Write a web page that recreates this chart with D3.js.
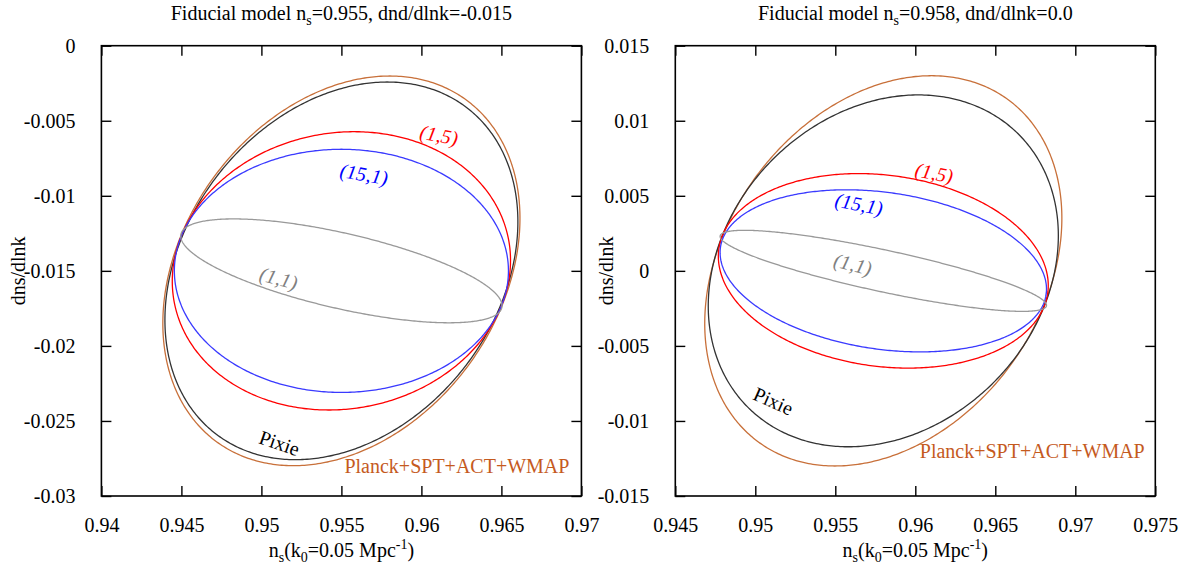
<!DOCTYPE html>
<html>
<head>
<meta charset="utf-8">
<script src="https://cdn.jsdelivr.net/npm/d3@7"></script>
<style>
  html, body { margin: 0; padding: 0; background: #fff; }
  svg, svg text, svg tspan { font-family: "Times New Roman", "Liberation Serif", Times, "DejaVu Serif", serif !important; }
</style>
</head>
<body>
<svg id="chart" width="1196" height="572"></svg>
<script>
// ---------------- DATA ----------------
const seriesNames = ["Planck+SPT+ACT+WMAP", "Pixie", "(1,5)", "(15,1)", "(1,1)"];
const seriesColors = ["#c8703a", "#333333", "#ff0000", "#3a3aff", "#999999"];
const labelColors  = ["#c55a1e", "#000000", "#ff0000", "#0000ff", "#808080"];
const labelItalic  = [false, false, true, true, true];

// Left panel: fiducial n_s=0.955, dn/dlnk=-0.015 (ellipse: centre, sigmas, correlation)
const leftCx  = [0.955, 0.955, 0.955, 0.955, 0.955];
const leftCy  = [-0.015, -0.015, -0.015, -0.015, -0.015];
const leftSx  = [0.01116, 0.01103, 0.01057, 0.01044, 0.01004];
const leftSy  = [0.01298, 0.01258, 0.00927, 0.00810, 0.00346];
const leftRho = [0.27, 0.26, 0.075, 0.0, -0.67];

// Right panel: fiducial n_s=0.958, dn/dlnk=0.0
const rightCx  = [0.958, 0.958, 0.958, 0.958, 0.958];
const rightCy  = [0.0, 0.0, 0.0, 0.0, 0.0];
const rightSx  = [0.01116, 0.01094, 0.01031, 0.01020, 0.01020];
const rightSy  = [0.01300, 0.01172, 0.00648, 0.00540, 0.00270];
const rightRho = [0.27, 0.20, -0.15, -0.225, -0.85];

// Label anchors (data units) and rotation
const leftLabelX   = [0.96222, 0.95113, 0.96110, 0.95641, 0.95108];
const leftLabelY   = [-0.02802, -0.02647, -0.00595, -0.00855, -0.01549];
const leftLabelRot = [0, 19, 11, 10, 15];
const rightLabelX   = [0.96731, 0.95113, 0.96117, 0.95648, 0.95610];
const rightLabelY   = [-0.01202, -0.00867, 0.00653, 0.00445, 0.00045];
const rightLabelRot = [0, 24, 11, 11, 14];

const leftXTicks  = [0.94, 0.945, 0.95, 0.955, 0.96, 0.965, 0.97];
const leftXTickLabels = ["0.94", "0.945", "0.95", "0.955", "0.96", "0.965", "0.97"];
const leftYTicks  = [0, -0.005, -0.01, -0.015, -0.02, -0.025, -0.03];
const leftYTickLabels = ["0", "-0.005", "-0.01", "-0.015", "-0.02", "-0.025", "-0.03"];
const rightXTicks = [0.945, 0.95, 0.955, 0.96, 0.965, 0.97, 0.975];
const rightXTickLabels = ["0.945", "0.95", "0.955", "0.96", "0.965", "0.97", "0.975"];
const rightYTicks = [0.015, 0.01, 0.005, 0, -0.005, -0.01, -0.015];
const rightYTickLabels = ["0.015", "0.01", "0.005", "0", "-0.005", "-0.01", "-0.015"];

const leftTitle  = { pre: "Fiducial model n", sub: "s", post: "=0.955, dnd/dlnk=-0.015" };
const rightTitle = { pre: "Fiducial model n", sub: "s", post: "=0.958, dnd/dlnk=0.0" };

// ---------------- DRAW ----------------
const svg = d3.select("#chart");
const FS = 20;
const FONT = "'Times New Roman', 'Liberation Serif', Times, serif";

function panel(opts) {
  const g = svg.append("g");
  const x = d3.scaleLinear().domain(opts.xDomain).range([opts.left, opts.left + 480]);
  const y = d3.scaleLinear().domain(opts.yDomain).range([496, 45.7]);
  const [x0, x1] = x.range();
  const [y0, y1] = y.range();

  // curves
  const line = d3.line().x(d => x(d[0])).y(d => y(d[1]));
  const N = 480;
  for (let i = 0; i < seriesNames.length; i++) {
    const cx = opts.cx[i], cy = opts.cy[i], sx = opts.sx[i], sy = opts.sy[i], r = opts.rho[i];
    const pts = d3.range(N + 1).map(k => {
      const t = 2 * Math.PI * k / N;
      return [cx + sx * Math.cos(t), cy + sy * (r * Math.cos(t) + Math.sqrt(1 - r * r) * Math.sin(t))];
    });
    g.append("path").attr("d", line(pts)).attr("fill", "none")
      .attr("stroke", seriesColors[i]).attr("stroke-width", 1.3);
  }

  // labels
  for (let i = 0; i < seriesNames.length; i++) {
    const lx = x(opts.lx[i]), ly = y(opts.ly[i]);
    g.append("text").text(seriesNames[i])
      .attr("transform", `translate(${lx},${ly}) rotate(${opts.lr[i]})`)
      .attr("text-anchor", "middle").attr("dominant-baseline", "central")
      .attr("font-family", FONT)
      .attr("font-size", FS).attr("fill", labelColors[i])
      .attr("font-style", labelItalic[i] ? "italic" : "normal");
  }

  // frame
  g.append("rect").attr("x", x0).attr("y", y1).attr("width", x1 - x0).attr("height", y0 - y1)
    .attr("fill", "none").attr("stroke", "#000").attr("stroke-width", 1.6);

  // axes with inward mirrored ticks
  const TL = 10;
  const bottom = d3.axisBottom(x).tickValues(opts.xTicks).tickSize(-TL)
    .tickFormat((d, i) => opts.xTickLabels[i]).tickPadding(TL + 12);
  const top = d3.axisTop(x).tickValues(opts.xTicks).tickSize(-TL).tickFormat("");
  const leftA = d3.axisLeft(y).tickValues(opts.yTicks).tickSize(-TL)
    .tickFormat((d, i) => opts.yTickLabels[i]).tickPadding(TL + 16);
  const rightA = d3.axisRight(y).tickValues(opts.yTicks).tickSize(-TL).tickFormat("");

  function style(sel) {
    sel.attr("font-family", FONT).attr("font-size", FS);
    sel.select(".domain").remove();
    sel.selectAll(".tick line").attr("stroke", "#000").attr("stroke-width", 1.4);
    sel.selectAll(".tick text").attr("font-size", FS).attr("fill", "#000")
      .attr("font-family", FONT);
  }
  g.append("g").attr("transform", `translate(0,${y0})`).call(bottom).call(style);
  g.append("g").attr("transform", `translate(0,${y1})`).call(top).call(style);
  g.append("g").attr("transform", `translate(${x0},0)`).call(leftA).call(style);
  g.append("g").attr("transform", `translate(${x1},0)`).call(rightA).call(style);

  // title
  const cxm = (x0 + x1) / 2;
  const t = g.append("text").attr("x", cxm).attr("y", 20).attr("text-anchor", "middle")
    .attr("font-family", FONT).attr("font-size", FS).attr("fill", "#000");
  t.append("tspan").text(opts.title.pre);
  t.append("tspan").text(opts.title.sub).attr("font-size", 14).attr("dy", 5);
  t.append("tspan").text(opts.title.post).attr("dy", -5);

  // x axis label
  const xl = g.append("text").attr("x", cxm).attr("y", 557).attr("text-anchor", "middle")
    .attr("font-family", FONT).attr("font-size", FS).attr("fill", "#000");
  xl.append("tspan").text("n");
  xl.append("tspan").text("s").attr("font-size", 14).attr("dy", 5);
  xl.append("tspan").text("(k").attr("dy", -5);
  xl.append("tspan").text("0").attr("font-size", 14).attr("dy", 5);
  xl.append("tspan").text("=0.05 Mpc").attr("dy", -5);
  xl.append("tspan").text("-1").attr("font-size", 14).attr("dy", -8);
  xl.append("tspan").text(")").attr("dy", 8);

  // y axis label
  g.append("text").text("dns/dlnk")
    .attr("transform", `translate(${opts.yLabelX},${(y0 + y1) / 2}) rotate(-90)`)
    .attr("text-anchor", "middle").attr("dominant-baseline", "central")
    .attr("font-family", FONT).attr("font-size", FS).attr("fill", "#000");
}

panel({
  left: 101.4, xDomain: [0.94, 0.97], yDomain: [-0.03, 0],
  cx: leftCx, cy: leftCy, sx: leftSx, sy: leftSy, rho: leftRho,
  lx: leftLabelX, ly: leftLabelY, lr: leftLabelRot,
  xTicks: leftXTicks, xTickLabels: leftXTickLabels,
  yTicks: leftYTicks, yTickLabels: leftYTickLabels,
  title: leftTitle, yLabelX: 18
});
panel({
  left: 675.3, xDomain: [0.945, 0.975], yDomain: [-0.015, 0.015],
  cx: rightCx, cy: rightCy, sx: rightSx, sy: rightSy, rho: rightRho,
  lx: rightLabelX, ly: rightLabelY, lr: rightLabelRot,
  xTicks: rightXTicks, xTickLabels: rightXTickLabels,
  yTicks: rightYTicks, yTickLabels: rightYTickLabels,
  title: rightTitle, yLabelX: 606
});
</script>
</body>
</html>
